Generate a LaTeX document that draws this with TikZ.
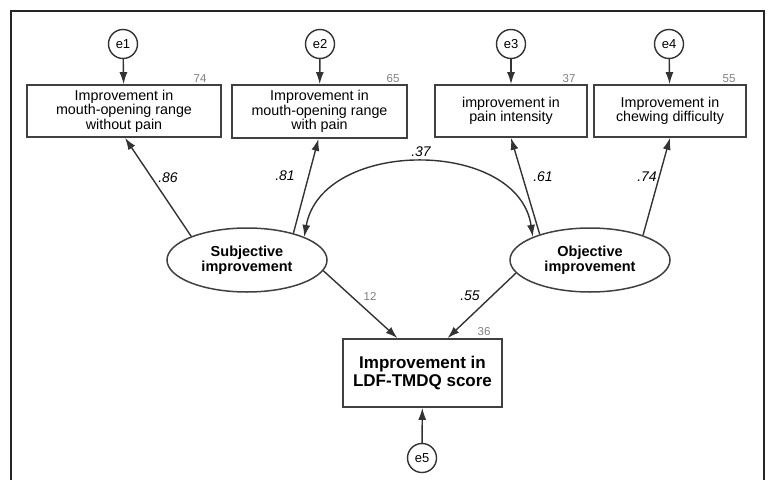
\documentclass[tikz,border=0pt]{standalone}
\usepackage{fontspec}
\setmainfont{Liberation Sans}
\usetikzlibrary{arrows.meta,shapes.geometric}
\begin{document}
\begin{tikzpicture}[x=1pt,y=-1pt,
  obsbox/.style={draw=black!75,line width=1.7pt,fill=white,inner sep=0pt,align=center,
    font=\fontsize{14.3}{12}\selectfont},
  latent/.style={ellipse,draw=black!75,line width=1.5pt,fill=white,inner sep=0pt,
    minimum width=160pt,minimum height=64pt,align=center,font=\bfseries\fontsize{14.5}{13}\selectfont},
  errc/.style={circle,draw=black!80,line width=1.4pt,fill=white,minimum size=29pt,inner sep=0pt,
    font=\fontsize{13}{12}\selectfont},
  path/.style={draw=black!80,line width=1.4pt,-{Latex[length=12pt,width=8pt]}},
  coef/.style={font=\itshape\fontsize{14}{13}\selectfont},
  rsq/.style={text=black!50,font=\fontsize{11.5}{11}\selectfont,inner sep=0pt}]
\useasboundingbox (0,0) rectangle (768,479);
\draw[black!85,line width=1.5pt] (11,480) -- (11,11) -- (764,11) -- (764,480);

% observed boxes
\node[obsbox,minimum width=194pt,minimum height=52pt] (b1) at (124,111)
  {Improvement in\\mouth-opening range\\without pain};
\node[obsbox,minimum width=175pt,minimum height=53pt] (b2) at (319.5,111.5)
  {Improvement in\\mouth-opening range\\with pain};
\node[obsbox,minimum width=152pt,minimum height=52pt] (b3) at (511,111)
  {improvement in\\pain intensity};
\node[obsbox,minimum width=152pt,minimum height=52pt] (b4) at (670,111)
  {Improvement in\\chewing difficulty};
\node[obsbox,minimum width=159pt,minimum height=68pt,font=\bfseries\fontsize{17}{18}\selectfont] (ldf) at (422.5,373)
  {Improvement in\\LDF-TMDQ score};

% latent variables
\node[latent] (subj) at (247,260) {Subjective\\improvement};
\node[latent] (obj) at (590,260) {Objective\\improvement};

% errors
\node[errc] (e1) at (123,44) {e1};
\node[errc] (e2) at (320,44) {e2};
\node[errc] (e3) at (511,44) {e3};
\node[errc] (e4) at (669,44) {e4};
\node[errc] (e5) at (422,458) {e5};

\draw[path] (e1) -- (b1);
\draw[path] (e2) -- (b2);
\draw[path] (e3) -- (b3);
\draw[path] (e4) -- (b4);
\draw[path] (e5) -- (ldf);

\draw[path] (subj.157) -- ([xshift=1pt]b1.south);
\draw[path] (subj.30) -- ([xshift=-1pt]b2.south);
\draw[path] (obj.153) -- (b3.south);
\draw[path] (obj.25) -- (b4.south);
\draw[path] (subj.-8) -- ([xshift=-25pt]ldf.north);
\draw[path] (obj.190) -- ([xshift=25pt]ldf.north);

\draw[draw=black!80,line width=1.4pt,{Latex[length=12pt,width=8pt]}-{Latex[length=12pt,width=8pt]}]
  (subj.22) .. controls (322,138) and (518,138) .. (obj.158);

% coefficients
\node[coef] (c86) at (168,178) {.86};
\node[coef] (c81) at (285,176) {.81};
\node[coef] (c37) at (421,152) {.37};
\node[coef] (c61) at (543,177) {.61};
\node[coef] (c74) at (647,177) {.74};
\node[coef] (c55) at (470,296) {.55};
\node[rsq] (r12) at (370,296) {12};
\node[rsq] (r36) at (484,332) {36};
\node[rsq] (r74) at (200,79) {74};
\node[rsq] (r65) at (393,79) {65};
\node[rsq] (r37) at (569,79) {37};
\node[rsq] (r55) at (729,79) {55};
\end{tikzpicture}
\end{document}
